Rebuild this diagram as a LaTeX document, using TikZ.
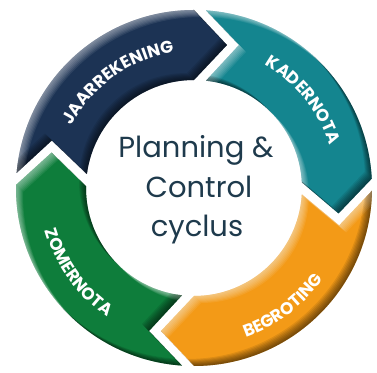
\documentclass[tikz,border=0pt]{standalone}
\usepackage{fontspec}
\setmainfont{Poppins}
\usetikzlibrary{decorations.text,calc}
\definecolor{navyc}{HTML}{1C3354}
\definecolor{tealc}{HTML}{14858F}
\definecolor{orangec}{HTML}{F39A17}
\definecolor{greenc}{HTML}{0E7D3B}
\definecolor{txtc}{HTML}{1E3A4C}
\newcommand\lblfont{\bfseries\fontsize{17}{17}\selectfont}
\newcommand\segpath[4]{(T#1-o) arc[start angle={#2-3.866}, end angle=#4, radius=178] -- (H#3-t) -- (H#3-i) arc[start angle=#4, end angle={#2-6.379}, radius=108] -- (T#1-t) -- cycle}
\newcommand\bevelseg[5]{%
  \fill[#5] \segpath{#1}{#2}{#3}{#4};
  \begin{scope}
    \clip \segpath{#1}{#2}{#3}{#4};
    \foreach \s in {1,...,7}{
      \fill[white, opacity=.08, even odd rule, transform canvas={shift={(\s,-\s)}}] (-60,-60) rectangle (440,440) \segpath{#1}{#2}{#3}{#4};
      \fill[black, opacity=.09, even odd rule, transform canvas={shift={(-\s,\s)}}] (-60,-60) rectangle (440,440) \segpath{#1}{#2}{#3}{#4};
    }
  \end{scope}}
\tikzset{
  ctext/.style={font=\fontsize{29}{29}\selectfont, text=txtc, inner sep=0pt, anchor=base},
  arclabel/.style={decorate, decoration={text along path, text align=center, text color=white, text={|\lblfont|#1}}}
}
\begin{document}
\begin{tikzpicture}[x=1pt,y=1pt]
\useasboundingbox (0,0) rectangle (377,372);
\coordinate (C) at (194,184);
\foreach \a/\n in {90/n,3/t,-90/o,179/g}{
  \begin{scope}[shift={(194,184)}, rotate=\a-90]
    \coordinate (H\n-o) at (0,178);
    \coordinate (H\n-t) at (33,143);
    \coordinate (H\n-i) at (0,108);
    \coordinate (T\n-o) at (12,177.595);
    \coordinate (T\n-t) at (45,143);
    \coordinate (T\n-i) at (12,107.331);
  \end{scope}}
\bevelseg{g}{179}{n}{90}{navyc}
\bevelseg{n}{90}{t}{3}{tealc}
\bevelseg{t}{3}{o}{-90}{orangec}
\bevelseg{o}{270}{g}{179}{greenc}
\path[arclabel=JAARREKENING] ($(C)+(175.7:137)$) arc[start angle=175.7, end angle=75.7, radius=137];
\path[arclabel=KADERNOTA] ($(C)+(88.7:142)$) arc[start angle=88.7, end angle=-11.3, radius=142];
\path[arclabel=BEGROTING] ($(C)+(-103:158)$) arc[start angle=-103, end angle=-3, radius=158];
\path[arclabel=ZOMERNOTA] ($(C)+(166:155)$) arc[start angle=166, end angle=266, radius=155];
\node[ctext] (l1) at (196,214) {Planning \&};
\node[ctext] (l2) at (199,174) {Control};
\node[ctext] (l3) at (197,135) {cyclus};
\end{tikzpicture}
\end{document}
